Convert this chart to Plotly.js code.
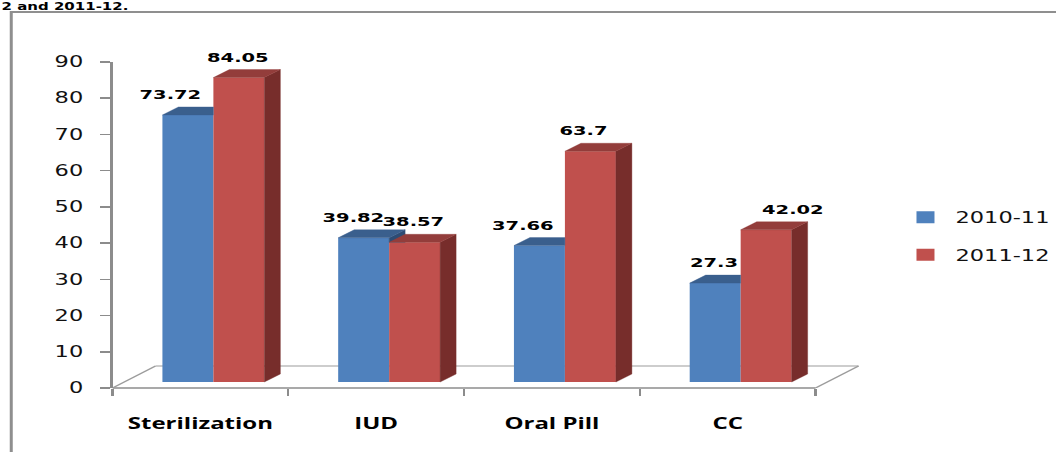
<!DOCTYPE html>
<html><head><meta charset="utf-8">
<script src="https://cdn.plot.ly/plotly-3.0.1.min.js"></script>
<style>
html,body{margin:0;padding:0;overflow:hidden;background:#fff}
#wrap{width:1056px;height:452px;overflow:hidden}
#chart{width:704px;height:452px;transform:scaleX(1.5);transform-origin:0 0}
</style>
</head><body><div id="wrap"><div id="chart"></div></div>
<script>
// ---- data ----
const categories = ['Sterilization', 'IUD', 'Oral Pill', 'CC'];
const seriesNames = ['2010-11', '2011-12'];
const values2010 = [73.72, 39.82, 37.66, 27.3];
const values2011 = [84.05, 38.57, 63.7, 42.02];
const yTickVals = [0, 10, 20, 30, 40, 50, 60, 70, 80, 90];

// ---- geometry / style (not data) ----
const SX = 1.5;                 // horizontal stretch of the whole picture
const W = 704, H = 452, L = 75, T = 62, Bm = 64, R = 114;
const plotW = W - L - R, plotH = H - T - Bm;
const pxPerCat = 468.7 / 4;     // unstretched px per category
const xMax = -0.5 + plotW / pxPerCat;
const pxPerUnit = plotH / 90;
const barW = 0.29;
const offsets = [-0.216, 0.074];
const dX = 16 / SX / pxPerCat;        // depth in category units
const dY = 8 / pxPerUnit;             // depth in value units
const baseV = 6 / pxPerUnit;          // bars stand a little into the floor
const floorX = 43 / SX / pxPerCat, floorY = 22 / pxPerUnit;
const labelShiftPx = [[-18, -11, -16, -1], [-1, -1, -7, 26]]; // stretched px
const frontCol = ['#4F81BD', '#C0504D'];
const topCol = ['#3A5F8D', '#933D3B'];
const sideCol = ['#2D4C74', '#772D2B'];

const series = [values2010, values2011];

function poly(list) {
  const x = [], y = [];
  list.forEach(p => { p.forEach(q => { x.push(q[0]); y.push(q[1]); }); x.push(p[0][0]); y.push(p[0][1]); x.push(null); y.push(null); });
  return {x, y};
}

const traces = [];
// front faces as bars
series.forEach((vals, s) => {
  traces.push({
    type: 'bar', name: seriesNames[s], x: categories.map((c, i) => i), y: vals,
    base: vals.map(() => baseV), width: barW, offset: offsets[s],
    marker: {color: frontCol[s], line: {width: 0}},
    legendgroup: 'g' + s, hoverinfo: 'skip'
  });
});

// side / top faces
const blueSide = [], blueTop = [], redSide = [], redTop = [];
categories.forEach((c, i) => {
  const Tb = values2010[i] + baseV, Tr = values2011[i] + baseV;
  const xl = i + offsets[0], xr = xl + barW;           // blue
  const rl = i + offsets[1], rr = rl + barW;           // red
  // blue top, clipped where the red front face hides it
  const cc = Math.min(Math.max(Tr - Tb, 0), dY);
  if (cc >= dY) {
    blueTop.push([[xl, Tb], [xr, Tb], [xr, Tb + dY], [xl + dX, Tb + dY]]);
  } else if (cc > 0) {
    blueTop.push([[xl, Tb], [xr, Tb], [xr, Tb + cc], [xr + cc / dY * dX, Tb + cc], [xr + dX, Tb + dY], [xl + dX, Tb + dY]]);
  } else {
    blueTop.push([[xl, Tb], [xr, Tb], [xr + dX, Tb + dY], [xl + dX, Tb + dY]]);
  }
  // blue side, visible only above the red front face
  const s1 = Math.min(Math.max((Tr - Tb) / dY, 0), 1);
  if (s1 <= 0) blueSide.push([[xr, Tb], [xr + dX, Tb + dY], [xr + dX, Tr], [xr, Tr]]);
  else if (s1 < 1) blueSide.push([[xr + s1 * dX, Tr], [xr + dX, Tb + dY], [xr + dX, Tr]]);
  redTop.push([[rl, Tr], [rr, Tr], [rr + dX, Tr + dY], [rl + dX, Tr + dY]]);
  redSide.push([[rr, baseV], [rr, Tr], [rr + dX, Tr + dY], [rr + dX, baseV + dY]]);
});
[[blueSide, sideCol[0]], [blueTop, topCol[0]], [redSide, sideCol[1]], [redTop, topCol[1]]].forEach(([lst, col]) => {
  if (!lst.length) return;
  const p = poly(lst);
  traces.push({type: 'scatter', mode: 'lines', x: p.x, y: p.y, fill: 'toself', fillcolor: col,
    line: {color: col, width: 0.3}, showlegend: false, hoverinfo: 'skip', connectgaps: false});
});

// value labels
const annotations = [];
series.forEach((vals, s) => {
  vals.forEach((v, i) => {
    annotations.push({
      x: i + offsets[s] + barW / 2, y: v + baseV + dY, xref: 'x', yref: 'y',
      text: String(v), showarrow: false, yanchor: 'bottom', xanchor: 'center',
      xshift: labelShiftPx[s][i] / SX, yshift: 3,
      font: {family: 'DejaVu Sans', size: 13, color: '#000', weight: 'bold'}
    });
  });
});
// caption fragment at the very top
annotations.push({
  xref: 'paper', yref: 'paper', x: (0 - L) / plotW, y: 1 + T / plotH,
  xanchor: 'left', yanchor: 'top', showarrow: false, text: '2 and 2011-12.', borderpad: 0,
  font: {family: 'DejaVu Sans', size: 10, color: '#000', weight: 'bold'}
});

const lineGrey = '#8c8c8c';
const shapes = [
  // chart frame
  {type: 'rect', xref: 'paper', yref: 'paper', x0: (7.5 - L) / plotW, x1: 1.6, y0: -0.5, y1: 1 + (T - 12) / plotH,
   line: {color: '#8f8f8f', width: 2}, fillcolor: 'rgba(0,0,0,0)', layer: 'below'},
  // floor
  {type: 'line', xref: 'x', yref: 'paper', x0: -0.5, x1: categories.length - 0.5, y0: 0, y1: 0,
   line: {color: lineGrey, width: 1.5}, layer: 'below'},
  {type: 'line', xref: 'x', yref: 'y', x0: -0.5, y0: 0, x1: -0.5 + floorX, y1: floorY,
   line: {color: '#9c9c9c', width: 1.2}, layer: 'below'},
  {type: 'line', xref: 'x', yref: 'y', x0: -0.5 + floorX, y0: floorY, x1: categories.length - 0.5 + floorX, y1: floorY,
   line: {color: '#9c9c9c', width: 1.2}, layer: 'below'},
  {type: 'line', xref: 'x', yref: 'y', x0: categories.length - 0.5, y0: 0, x1: categories.length - 0.5 + floorX, y1: floorY,
   line: {color: '#9c9c9c', width: 1.2}, layer: 'below'}
];

const layout = {
  width: W, height: H,
  margin: {l: L, r: R, t: T, b: Bm, pad: 0},
  paper_bgcolor: '#fff', plot_bgcolor: 'rgba(0,0,0,0)',
  barmode: 'overlay', hovermode: false,
  showlegend: true,
  legend: {xref: 'container', yref: 'container', x: 0.848, y: 1 - 201 / H, xanchor: 'left', yanchor: 'top',
    font: {family: 'DejaVu Sans', size: 15, color: '#111'}, traceorder: 'grouped', tracegroupgap: 15,
    bgcolor: 'rgba(0,0,0,0)'},
  xaxis: {range: [-0.5, xMax], tickmode: 'array', tickvals: categories.map((c, i) => i), ticktext: categories,
    ticks: '', showline: false, showgrid: false, zeroline: false, fixedrange: true, ticklabelstandoff: 24,
    tickfont: {family: 'Open Sans', size: 16, color: '#000', weight: 'bold'},
    minor: {tickmode: 'array', tickvals: categories.concat(['']).map((c, i) => i - 0.5), ticks: 'outside', ticklen: 7,
      tickcolor: lineGrey, tickwidth: 1.5, showgrid: false}},
  yaxis: {range: [0, 90], tickmode: 'array', tickvals: yTickVals, ticks: 'outside', ticklen: 7, tickwidth: 1.5,
    tickcolor: lineGrey, showline: true, linecolor: lineGrey, linewidth: 1.5, showgrid: false, zeroline: false,
    fixedrange: true, ticklabelstandoff: 8,
    tickfont: {family: 'DejaVu Sans', size: 15, color: '#111'}},
  shapes: shapes, annotations: annotations
};

Plotly.newPlot('chart', traces, layout, {displayModeBar: false, staticPlot: true});
</script>
</body></html>
